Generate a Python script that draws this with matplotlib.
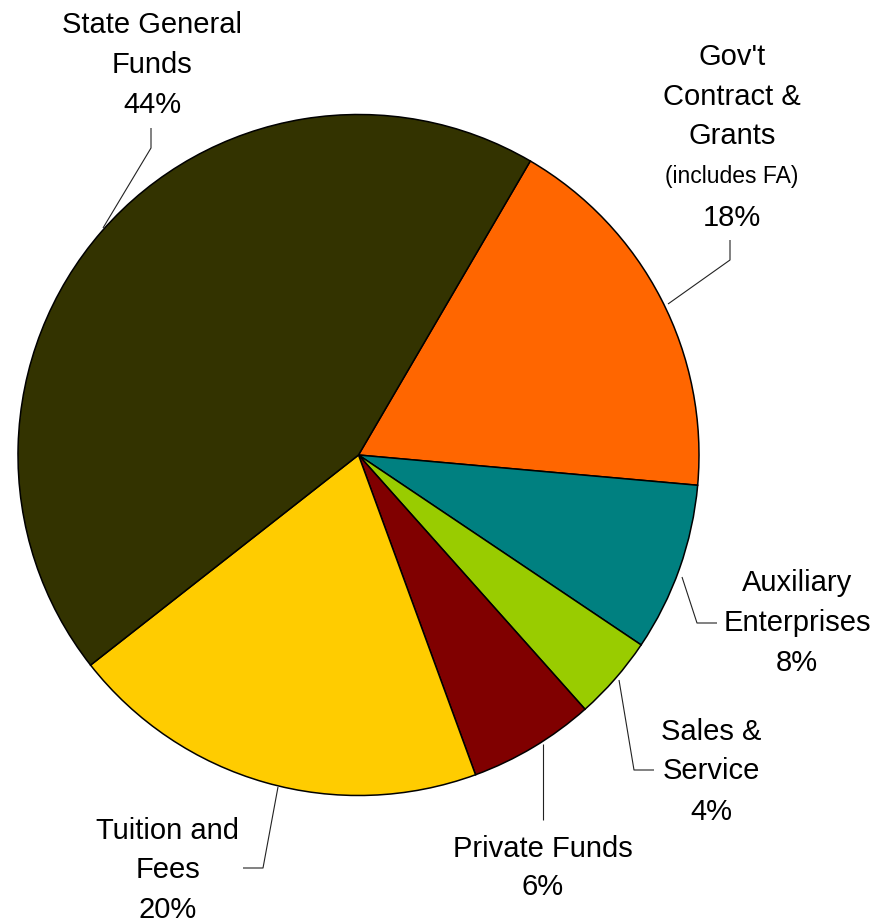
import matplotlib.pyplot as plt

plt.rcParams['font.family'] = ['Liberation Sans', 'DejaVu Sans']

# Funding sources, clockwise from the Gov't slice
sources = ["Gov't Contract & Grants", "Auxiliary Enterprises", "Sales & Service",
           "Private Funds", "Tuition and Fees", "State General Funds"]
shares = [18, 8, 4, 6, 20, 44]
colors = ['#FF6600', '#008080', '#99CC00', '#800000', '#FFCC00', '#333300']

W, H = 877, 924


def py(y):
    # image-style y (top down) to axis y
    return H - y


fig = plt.figure(figsize=(W / 100, H / 100), dpi=100)
ax = fig.add_axes([0, 0, 1, 1])

ax.pie(shares, colors=colors, startangle=59.7, counterclock=False,
       center=(358.5, py(455)), radius=340.5, frame=True,
       wedgeprops=dict(edgecolor='black', linewidth=1.1))
ax.set_xlim(0, W)
ax.set_ylim(0, H)
ax.set_aspect('equal')
ax.axis('off')

# leader lines: edge point -> elbow -> end
leaders = [
    [(103, 228), (151, 148), (151, 128)],
    [(668, 304), (730, 260), (730, 240)],
    [(682, 577), (697, 623), (717, 623)],
    [(619, 680), (634, 770), (654, 770)],
    [(543, 744), (543, 820)],
    [(278, 787), (263, 868), (243, 868)],
]
for pts in leaders:
    xs = [p[0] for p in pts]
    ys = [py(p[1]) for p in pts]
    ax.plot(xs, ys, color='#222222', linewidth=0.8, solid_capstyle='butt')

fs = 21
txt = dict(ha='center', va='center', fontsize=fs, color='black')


def lines(x, ys, labels, sizes=None):
    for i, (y, s) in enumerate(zip(ys, labels)):
        kw = dict(txt)
        if sizes:
            kw['fontsize'] = sizes[i]
        ax.text(x, py(y), s, **kw)


lines(152, [25, 65, 105], ['State General', 'Funds', f'{shares[5]}%'])
lines(732, [57, 97, 136, 177, 218],
      ["Gov't", 'Contract &', 'Grants', '(includes FA)', f'{shares[0]}%'],
      sizes=[fs, fs, fs, 16.5, fs])
lines(797, [583, 623, 663], ['Auxiliary', 'Enterprises', f'{shares[1]}%'])
lines(711, [732, 771, 812], ['Sales &', 'Service', f'{shares[2]}%'])
lines(543, [849, 887], ['Private Funds', f'{shares[3]}%'])
lines(168, [831, 870, 910], ['Tuition and', 'Fees', f'{shares[4]}%'])

fig.savefig('out.png', dpi=100, facecolor='white')
